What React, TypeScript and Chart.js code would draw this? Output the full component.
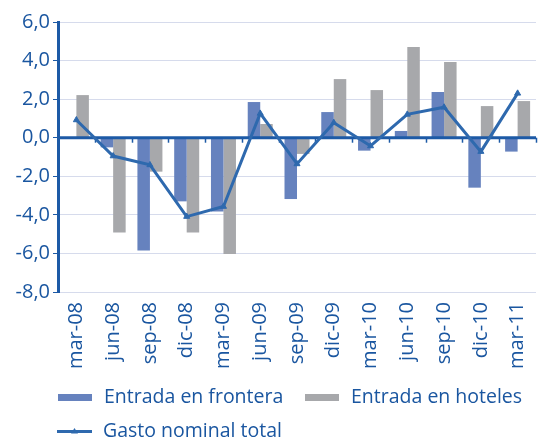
import React, { useEffect, useRef } from "react";
import { Chart, registerables } from "chart.js";

Chart.register(...registerables);

const categories = ["mar-08", "jun-08", "sep-08", "dic-08", "mar-09", "jun-09", "sep-09", "dic-09", "mar-10", "jun-10", "sep-10", "dic-10", "mar-11"];
const entradaFrontera = [0.0, -0.5, -5.85, -3.3, -3.83, 1.85, -3.18, 1.33, -0.67, 0.35, 2.37, -2.59, -0.72];
const entradaHoteles = [2.21, -4.92, -1.76, -4.92, -6.03, 0.71, -0.84, 3.04, 2.47, 4.7, 3.92, 1.64, 1.9];
const gastoNominal = [0.92, -0.95, -1.41, -4.09, -3.57, 1.26, -1.36, 0.78, -0.43, 1.21, 1.58, -0.72, 2.3];
const yMin = -8;
const yMax = 6;
const yStep = 2;

const BLUE_BAR = "#6682BE";
const GRAY_BAR = "#A7A8AB";
const LINE = "#2E69AE";
const AXIS = "#1D5AA6";
const TEXT = "#1A56A0";
const GRID = "#D6DBEC";
const FONT = '"Open Sans", "Noto Sans", sans-serif';

const zeroLinePlugin = {
  id: "zeroLine",
  beforeDatasetDraw(chart: any, args: any) {
    if (args.meta.type !== "line") return;
    const { ctx, chartArea, scales } = chart;
    const y0 = scales.y.getPixelForValue(0);
    ctx.save();
    ctx.strokeStyle = AXIS;
    ctx.lineWidth = 3;
    ctx.beginPath();
    ctx.moveTo(chartArea.left, y0);
    ctx.lineTo(chartArea.right, y0);
    ctx.stroke();
    ctx.lineWidth = 1.5;
    const n = chart.data.labels.length;
    const xs = scales.x;
    const half = (xs.getPixelForValue(1) - xs.getPixelForValue(0)) / 2;
    for (let i = 1; i <= n; i++) {
      const px = Math.round(xs.getPixelForValue(i - 1) + half) + 0.5;
      ctx.beginPath();
      ctx.moveTo(px, y0);
      ctx.lineTo(px, y0 + 5);
      ctx.stroke();
    }
    ctx.restore();
  },
};

const legendPlugin = {
  id: "customLegend",
  afterDraw(chart: any) {
    const { ctx } = chart;
    const ds = chart.data.datasets;
    const items = [
      { d: ds[0], x: 58, y: 397.5 },
      { d: ds[1], x: 305, y: 397.5 },
      { d: ds[2], x: 57, y: 431.5 },
    ];
    ctx.save();
    ctx.font = `19.5px ${FONT}`;
    ctx.textBaseline = "middle";
    ctx.textAlign = "left";
    items.forEach(({ d, x, y }) => {
      if (d.type === "line") {
        ctx.strokeStyle = d.borderColor;
        ctx.lineWidth = 3;
        ctx.beginPath();
        ctx.moveTo(x, y);
        ctx.lineTo(x + 35, y);
        ctx.stroke();
        ctx.fillStyle = d.borderColor;
        ctx.beginPath();
        ctx.moveTo(x + 17.5, y - 3.5);
        ctx.lineTo(x + 21, y + 2);
        ctx.lineTo(x + 14, y + 2);
        ctx.closePath();
        ctx.fill();
      } else {
        ctx.fillStyle = d.backgroundColor;
        ctx.fillRect(x, y - 3.5, 34, 7);
      }
      ctx.fillStyle = TEXT;
      ctx.fillText(d.label, x + 46, y);
    });
    ctx.restore();
  },
};

export default function App() {
  const ref = useRef<HTMLCanvasElement | null>(null);
  useEffect(() => {
    if (!ref.current) return;
    const chart = new Chart(ref.current, {
      type: "bar",
      data: {
        labels: categories,
        datasets: [
          {
            type: "bar",
            label: "Entrada en frontera",
            data: entradaFrontera,
            backgroundColor: BLUE_BAR,
            categoryPercentage: 0.68,
            barPercentage: 1,
            order: 1,
          },
          {
            type: "bar",
            label: "Entrada en hoteles",
            data: entradaHoteles,
            backgroundColor: GRAY_BAR,
            categoryPercentage: 0.68,
            barPercentage: 1,
            order: 1,
          },
          {
            type: "line",
            label: "Gasto nominal total",
            data: gastoNominal,
            borderColor: LINE,
            backgroundColor: LINE,
            borderWidth: 3,
            pointStyle: "triangle",
            pointRadius: 3.5,
            pointBackgroundColor: LINE,
            pointBorderColor: LINE,
            pointBorderWidth: 1,
            tension: 0,
            order: 0,
          } as any,
        ],
      },
      options: {
        responsive: false,
        animation: false,
        devicePixelRatio: 1,
        layout: { padding: { top: 22, right: 10, bottom: 60, left: 0 } },
        plugins: {
          legend: { display: false },
          tooltip: { enabled: false },
        },
        scales: {
          x: {
            grid: { display: false, drawTicks: false },
            border: { display: false },
            afterFit(scale: any) {
              scale.height = 87;
            },
            ticks: {
              minRotation: 90,
              maxRotation: 90,
              padding: 10,
              color: TEXT,
              font: { family: FONT, size: 20 },
              autoSkip: false,
            },
          },
          y: {
            min: yMin,
            max: yMax,
            afterFit(scale: any) {
              scale.width = 58;
            },
            border: { display: true, color: AXIS, width: 3 },
            grid: {
              color: (c: any) => (c.tick && c.tick.value === 0 ? "rgba(0,0,0,0)" : GRID),
              lineWidth: 1,
              tickColor: AXIS,
              tickLength: 5,
              drawTicks: true,
            },
            ticks: {
              stepSize: yStep,
              padding: 3,
              color: TEXT,
              font: { family: FONT, size: 20 },
              callback: (v: any) => Number(v).toFixed(1).replace(".", ","),
            },
          },
        },
      },
      plugins: [zeroLinePlugin, legendPlugin],
    });
    return () => chart.destroy();
  }, []);
  return (
    <div style={{ position: "absolute", left: 0, top: 0, width: 552, height: 439 }}>
      <canvas ref={ref} width={552} height={439} />
    </div>
  );
}
